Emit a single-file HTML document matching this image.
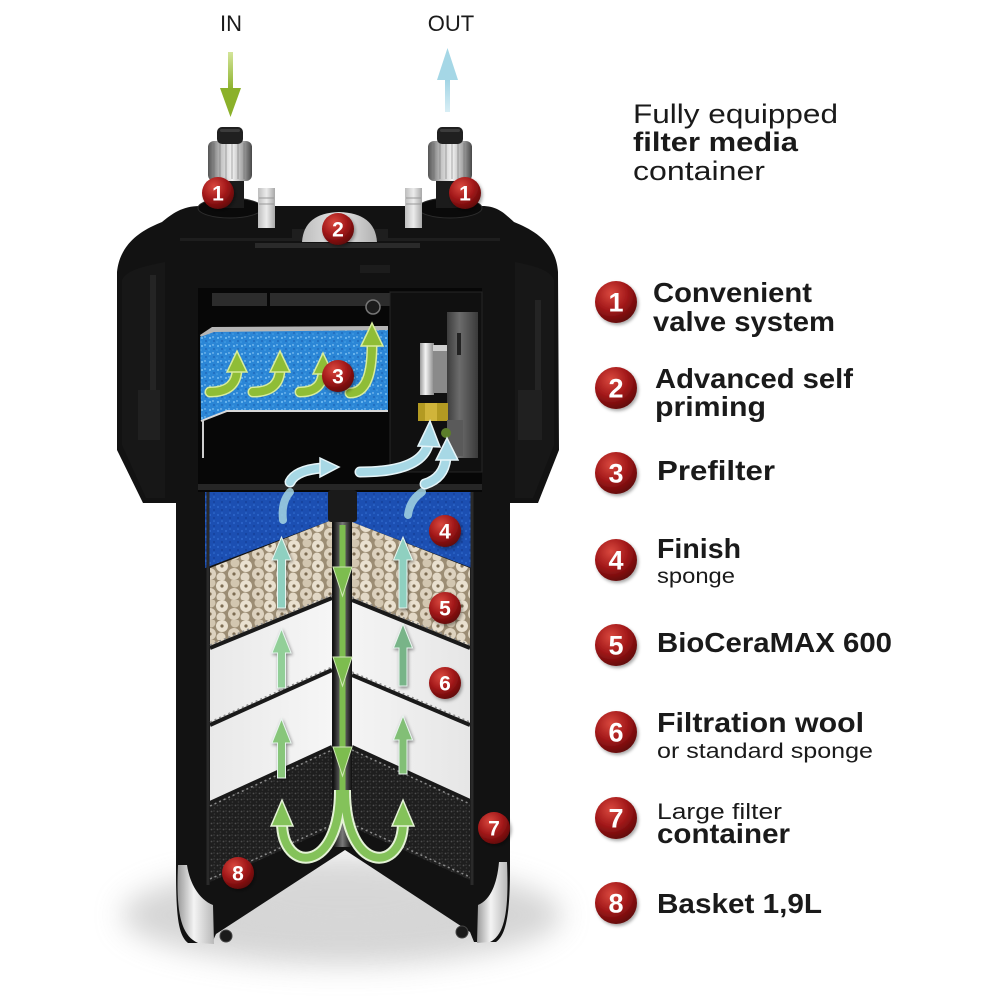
<!DOCTYPE html>
<html><head><meta charset="utf-8">
<style>
html,body{margin:0;padding:0;background:#fff;}
svg{display:block;}
text{font-family:"Liberation Sans",Arial,sans-serif;}
</style></head><body>
<svg width="1000" height="1000" viewBox="0 0 1000 1000" xmlns="http://www.w3.org/2000/svg">
<defs>
 <radialGradient id="bd" cx="38%" cy="30%" r="72%">
  <stop offset="0" stop-color="#d9483e"/>
  <stop offset="0.55" stop-color="#a3191a"/>
  <stop offset="1" stop-color="#620707"/>
 </radialGradient>
 <filter id="ds" x="-40%" y="-40%" width="180%" height="180%"><feDropShadow dx="1.5" dy="2" stdDeviation="1.5" flood-color="#000" flood-opacity="0.35"/></filter>
 <filter id="ads" x="-40%" y="-40%" width="180%" height="180%"><feDropShadow dx="1" dy="1.5" stdDeviation="1.5" flood-color="#000" flood-opacity="0.45"/></filter>
 <filter id="blur" x="-50%" y="-50%" width="200%" height="200%"><feGaussianBlur stdDeviation="14"/></filter>
 <linearGradient id="silv" x1="0" x2="1" y1="0" y2="0">
  <stop offset="0" stop-color="#555"/><stop offset="0.3" stop-color="#c4c4c4"/><stop offset="0.55" stop-color="#f2f2f2"/><stop offset="0.8" stop-color="#a4a4a4"/><stop offset="1" stop-color="#474747"/>
 </linearGradient>
 <linearGradient id="foot" x1="0" x2="1" y1="0" y2="0">
  <stop offset="0" stop-color="#9a9a9a"/><stop offset="0.45" stop-color="#f4f4f4"/><stop offset="1" stop-color="#b8b8b8"/>
 </linearGradient>
 <linearGradient id="tab" x1="0" x2="1">
  <stop offset="0" stop-color="#bdbdbd"/><stop offset="0.5" stop-color="#ececec"/><stop offset="1" stop-color="#a8a8a8"/>
 </linearGradient>
 <linearGradient id="dome" x1="0" x2="1">
  <stop offset="0" stop-color="#bdbdbd"/><stop offset="0.5" stop-color="#e6e6e6"/><stop offset="1" stop-color="#b0b0b0"/>
 </linearGradient>
 <linearGradient id="tube" x1="0" x2="1">
  <stop offset="0" stop-color="#0e0e0e"/><stop offset="0.5" stop-color="#7a7a7a"/><stop offset="1" stop-color="#0e0e0e"/>
 </linearGradient>
 <linearGradient id="hous" x1="0" x2="1">
  <stop offset="0" stop-color="#3c3c3c"/><stop offset="0.4" stop-color="#6c6c6c"/><stop offset="1" stop-color="#3a3a3a"/>
 </linearGradient>
 <linearGradient id="cyl" x1="0" x2="1">
  <stop offset="0" stop-color="#9a9a9a"/><stop offset="0.4" stop-color="#f4f4f4"/><stop offset="1" stop-color="#888"/>
 </linearGradient>
 <linearGradient id="woolL" x1="0" x2="1">
  <stop offset="0" stop-color="#e9e9e9"/><stop offset="1" stop-color="#f6f6f6"/>
 </linearGradient>
 <linearGradient id="woolR" x1="0" x2="1">
  <stop offset="0" stop-color="#f4f4f4"/><stop offset="1" stop-color="#e6e6e6"/>
 </linearGradient>
 <linearGradient id="inG" x1="0" x2="0" y1="0" y2="1">
  <stop offset="0" stop-color="#d4e59a"/><stop offset="1" stop-color="#8bb12a"/>
 </linearGradient>
 <linearGradient id="outG" x1="0" x2="0" y1="0" y2="1">
  <stop offset="0" stop-color="#9fd3e4"/><stop offset="1" stop-color="#d8eef5"/>
 </linearGradient>
 <pattern id="pre" width="8" height="8" patternUnits="userSpaceOnUse">
  <rect width="8" height="8" fill="#2b86d6"/>
  <circle cx="2" cy="2" r="1" fill="#78c0f4"/><circle cx="6" cy="5" r="0.9" fill="#1c62b4"/><circle cx="5" cy="1" r="0.7" fill="#a5d6fa"/><circle cx="1" cy="6" r="0.8" fill="#4aa2e6"/>
 </pattern>
 <pattern id="fin" width="8" height="8" patternUnits="userSpaceOnUse">
  <rect width="8" height="8" fill="#1c4fb2"/>
  <circle cx="2" cy="3" r="1.1" fill="#2b63c8"/><circle cx="6" cy="6" r="1" fill="#15409a"/><circle cx="6" cy="1" r="0.8" fill="#3370d0"/>
 </pattern>
 <pattern id="cer" width="24" height="20" patternUnits="userSpaceOnUse">
  <rect width="24" height="20" fill="#9c8d74"/>
  <circle cx="6" cy="6" r="6" fill="#e9e0cf"/><circle cx="6" cy="6" r="1.6" fill="#7d6c52"/>
  <circle cx="18" cy="14" r="6" fill="#ddd2bf"/><circle cx="18" cy="14" r="1.6" fill="#7d6c52"/>
  <circle cx="19" cy="3" r="4.5" fill="#d2c6b0"/><circle cx="5" cy="17" r="4.5" fill="#e2d8c6"/>
 </pattern>
 <pattern id="carb" width="6" height="6" patternUnits="userSpaceOnUse">
  <rect width="6" height="6" fill="#1e1e1e"/>
  <circle cx="1.5" cy="1.5" r="0.9" fill="#4e4e4e"/><circle cx="4.5" cy="4" r="0.8" fill="#3a3a3a"/><circle cx="4" cy="1" r="0.5" fill="#666"/>
 </pattern>
</defs>

<!-- shadow -->
<ellipse cx="342" cy="915" rx="220" ry="50" fill="#c4c4c4" opacity="0.7" filter="url(#blur)"/>
<ellipse cx="345" cy="895" rx="120" ry="40" fill="#d8d8d8" opacity="0.6" filter="url(#blur)"/>

<!-- IN / OUT -->
<text x="231" y="31" font-size="22" text-anchor="middle" fill="#1a1a1a">IN</text>
<text x="451" y="31" font-size="22" text-anchor="middle" fill="#1a1a1a">OUT</text>
<rect x="228" y="52" width="5" height="38" fill="url(#inG)"/>
<polygon points="220,88 241,88 230.5,117" fill="#8bb12a"/>
<rect x="445" y="78" width="5" height="34" fill="url(#outG)"/>
<polygon points="437,80 458,80 447.5,48" fill="#a5d7e6"/>

<!-- body silhouette -->
<path d="M200 206 L482 206 C498 206 505 214 514 222 C534 230 556 243 558 272 L559 450 L538 503 L510 503 L510 868 C510 915 506 935 496 942 L474 942 L470 932 L345 850 L216 934 L212 943 L188 943 C178 935 176 915 176 868 L176 503 L143 503 L117 450 L117 272 C120 243 142 230 162 222 C172 214 182 206 200 206 Z" fill="#121212"/>
<!-- wing details -->
<path d="M122 280 L122 445 L146 498 L165 498 L165 262 C145 266 126 270 122 280 Z" fill="#171717"/>
<path d="M554 280 L554 445 L533 498 L515 498 L515 262 C535 266 550 270 554 280 Z" fill="#171717"/>
<rect x="150" y="275" width="6" height="140" fill="#242424"/>
<rect x="535" y="300" width="6" height="110" fill="#242424"/>
<rect x="138" y="390" width="22" height="50" fill="#202020"/>
<rect x="518" y="390" width="24" height="50" fill="#202020"/>
<!-- head cap details -->
<rect x="255" y="243" width="165" height="5" fill="#2a2a2a"/>
<rect x="180" y="238" width="320" height="3" fill="#1e1e1e"/>
<rect x="360" y="265" width="30" height="8" fill="#1c1c1c"/>

<!-- knobs -->
<g>
 <ellipse cx="230" cy="208" rx="32" ry="10" fill="#0a0a0a" stroke="#2c2c2c"/>
 <rect x="216" y="176" width="28" height="32" fill="#1b1b1b"/>
 <rect x="208" y="141" width="44" height="40" rx="6" fill="url(#silv)"/>
 <g stroke="#6a6a6a" stroke-opacity="0.55" stroke-width="1">
  <line x1="214" y1="143" x2="214" y2="179"/><line x1="220" y1="143" x2="220" y2="179"/><line x1="226" y1="143" x2="226" y2="179"/><line x1="232" y1="143" x2="232" y2="179"/><line x1="238" y1="143" x2="238" y2="179"/><line x1="244" y1="143" x2="244" y2="179"/>
 </g>
 <rect x="217" y="127" width="26" height="17" rx="5" fill="#202020"/>
 <rect x="220" y="129" width="20" height="3" rx="1.5" fill="#3c3c3c"/>
</g>
<g>
 <ellipse cx="450" cy="208" rx="32" ry="10" fill="#0a0a0a" stroke="#2c2c2c"/>
 <rect x="436" y="176" width="28" height="32" fill="#1b1b1b"/>
 <rect x="428" y="141" width="44" height="40" rx="6" fill="url(#silv)"/>
 <g stroke="#6a6a6a" stroke-opacity="0.55" stroke-width="1">
  <line x1="434" y1="143" x2="434" y2="179"/><line x1="440" y1="143" x2="440" y2="179"/><line x1="446" y1="143" x2="446" y2="179"/><line x1="452" y1="143" x2="452" y2="179"/><line x1="458" y1="143" x2="458" y2="179"/><line x1="464" y1="143" x2="464" y2="179"/>
 </g>
 <rect x="437" y="127" width="26" height="17" rx="5" fill="#202020"/>
 <rect x="440" y="129" width="20" height="3" rx="1.5" fill="#3c3c3c"/>
</g>
<!-- tabs -->
<rect x="258" y="188" width="17" height="40" fill="url(#tab)"/>
<line x1="259" y1="198" x2="274" y2="198" stroke="#999"/><line x1="259" y1="204" x2="274" y2="204" stroke="#999"/>
<rect x="405" y="188" width="17" height="40" fill="url(#tab)"/>
<line x1="406" y1="198" x2="421" y2="198" stroke="#999"/><line x1="406" y1="204" x2="421" y2="204" stroke="#999"/>
<!-- dome -->
<rect x="292" y="229" width="96" height="12" fill="#1e1e1e"/>
<path d="M302 242 Q304 213 339 212 Q375 213 377 242 Z" fill="url(#dome)"/>

<!-- head compartment -->
<rect x="198" y="288" width="284" height="204" fill="#070707"/>
<rect x="212" y="293" width="55" height="13" fill="#2c2c2c"/>
<rect x="270" y="293" width="120" height="13" fill="#2c2c2c"/>
<circle cx="373" cy="307" r="7" fill="#1c1c1c" stroke="#777" stroke-width="1.5"/>
<!-- prefilter -->
<polygon points="200,335 212,327 388,326 388,331 214,333 202,340" fill="#b5b5b5"/>
<polygon points="200,337 214,332 388,330 388,411 227,411 201,421" fill="url(#pre)"/>
<polyline points="201,421 227,411 388,411" fill="none" stroke="#d8d8d8" stroke-width="2"/>
<line x1="203" y1="420" x2="203" y2="458" stroke="#cfcfcf" stroke-width="2"/>
<!-- pump -->
<rect x="390" y="292" width="92" height="180" fill="#101010" stroke="#262626"/>
<rect x="447" y="312" width="31" height="146" fill="url(#hous)"/>
<rect x="457" y="333" width="4" height="22" fill="#222"/>
<rect x="420" y="343" width="14" height="52" fill="url(#cyl)"/>
<rect x="433" y="345" width="14" height="48" fill="#8a8a8a"/>
<rect x="433" y="345" width="14" height="6" fill="#d0d0d0"/>
<rect x="418" y="403" width="30" height="18" fill="#b39a22"/>
<rect x="425" y="403" width="12" height="18" fill="#d0b43a"/>
<rect x="447" y="420" width="16" height="36" fill="#5a5a5a"/>
<circle cx="446" cy="433" r="5" fill="#5c7e2a"/>
<!-- tray separator -->
<rect x="198" y="484" width="284" height="6" fill="#262626"/>

<!-- lower media -->
<polygon points="205,492 332,492 332,520 205,568" fill="url(#fin)"/>
<polygon points="352,492 472,492 472,568 352,522" fill="url(#fin)"/>
<polygon points="210,568 332,520 332,598 210,648" fill="url(#cer)"/>
<polygon points="352,522 470,568 470,648 352,600" fill="url(#cer)"/>
<polygon points="210,648 332,598 332,670 210,725" fill="url(#woolL)"/>
<polygon points="352,600 470,648 470,725 352,675" fill="url(#woolR)"/>
<polygon points="210,725 332,670 332,747 210,803" fill="url(#woolL)"/>
<polygon points="352,675 470,725 470,801 352,747" fill="url(#woolR)"/>
<polygon points="210,803 332,747 332,828 210,882" fill="url(#carb)"/>
<polygon points="352,747 470,801 470,880 352,827" fill="url(#carb)"/>
<!-- tray lines -->
<g fill="none" stroke="#1a1a1a" stroke-width="4">
 <polyline points="210,648 332,598"/><polyline points="352,600 470,648"/>
 <polyline points="210,725 332,670"/><polyline points="352,675 470,725"/>
 <polyline points="210,803 332,747"/><polyline points="352,747 470,801"/>
</g>
<g fill="none" stroke="#8a8a8a" stroke-width="1.5" stroke-dasharray="2 3">
 <polyline points="210,645 332,595"/><polyline points="352,597 470,645"/>
 <polyline points="210,722 332,667"/><polyline points="352,672 470,722"/>
 <polyline points="210,806 332,750"/><polyline points="352,750 470,804"/>
 <polyline points="210,879 332,825"/><polyline points="352,824 470,877"/>
</g>
<line x1="208" y1="492" x2="208" y2="885" stroke="#2a2a2a" stroke-width="3"/>
<line x1="472" y1="492" x2="472" y2="885" stroke="#2a2a2a" stroke-width="3"/>
<!-- tube -->
<rect x="333" y="492" width="19" height="355" fill="url(#tube)"/>
<rect x="328" y="490" width="29" height="32" rx="3" fill="#1a1a1a"/>
<!-- feet -->
<path d="M178 865 C176 910 180 935 198 943 L214 944 L213 905 C200 900 190 885 187 865 Z" fill="url(#foot)"/>
<path d="M507 862 C509 910 505 935 490 942 L477 943 L478 905 C490 900 497 885 499 862 Z" fill="url(#foot)"/>
<circle cx="226" cy="936" r="6" fill="#1a1a1a" stroke="#444"/>
<circle cx="462" cy="932" r="6" fill="#1a1a1a" stroke="#444"/>

<!-- prefilter arrows -->
<g fill="none" stroke="#d8ec9c" stroke-width="11" stroke-linecap="round">
 <path d="M210 392 Q236 392 237 370"/><path d="M253 392 Q279 392 280 370"/><path d="M300 392 Q322 392 323 372"/><path d="M350 393 Q372 393 372 345"/>
</g>
<g fill="none" stroke="#8fbd36" stroke-width="8" stroke-linecap="round">
 <path d="M210 392 Q236 392 237 370"/><path d="M253 392 Q279 392 280 370"/><path d="M300 392 Q322 392 323 372"/><path d="M350 393 Q372 393 372 345"/>
</g>
<g fill="#8fbd36" stroke="#d8ec9c" stroke-width="1.5">
 <polygon points="227,372 237,351 247,372"/><polygon points="270,372 280,351 290,372"/><polygon points="313,374 323,353 333,374"/><polygon points="361,346 372,323 383,346"/>
</g>

<!-- cyan arrows -->
<g fill="none" stroke="#a5d5e2" stroke-width="8" stroke-linecap="round" opacity="0.85">
 <path d="M283 520 Q281 502 290 492"/><path d="M408 515 Q410 500 422 492"/>
</g>
<g fill="none" stroke="#e6f5f9" stroke-width="11" stroke-linecap="round">
 <path d="M290 482 Q296 470 322 468"/><path d="M360 472 Q420 472 428 445"/><path d="M425 484 Q444 478 446 458"/>
</g>
<g fill="none" stroke="#a7d8e5" stroke-width="8" stroke-linecap="round">
 <path d="M290 482 Q296 470 322 468"/><path d="M360 472 Q420 472 428 445"/><path d="M425 484 Q444 478 446 458"/>
</g>
<g fill="#a7d8e5" stroke="#e6f5f9" stroke-width="1.5">
 <polygon points="320,458 339,467 320,477"/><polygon points="418,446 430,421 440,447"/><polygon points="436,460 447,438 458,460"/>
</g>

<!-- media up arrows -->
<g filter="url(#ads)" stroke="#e8f5ef" stroke-width="1">
 <path d="M277.5 608 L277.5 560 L272 560 L281.5 537 L291 560 L285.5 560 L285.5 608 Z" fill="#8fd0c0"/>
 <path d="M277.5 688 L277.5 653 L272 653 L281.5 629 L291 653 L285.5 653 L285.5 688 Z" fill="#92cf98"/>
 <path d="M277.5 778 L277.5 743 L272 743 L281.5 719 L291 743 L285.5 743 L285.5 778 Z" fill="#88c67a"/>
 <path d="M399 608 L399 560 L393.5 560 L403 537 L412.5 560 L407 560 L407 608 Z" fill="#8fd0c0"/>
 <path d="M399 686 L399 648 L393.5 648 L403 624 L412.5 648 L407 648 L407 686 Z" fill="#78b488"/>
 <path d="M399 774 L399 740 L393.5 740 L403 716 L412.5 740 L407 740 L407 774 Z" fill="#82bf76"/>
</g>

<!-- tube down arrows -->
<rect x="339.5" y="525" width="6" height="275" fill="#7dbd4f"/>
<g fill="#7dbd4f" stroke="#cfe8b5" stroke-width="1">
 <polygon points="333,567 352,567 342.5,596"/><polygon points="333,657 352,657 342.5,686"/><polygon points="333,747 352,747 342.5,776"/>
</g>
<!-- U turns -->
<g fill="none" stroke="#e4f2d6" stroke-width="12">
 <path d="M340 790 C340 874 282 874 282 822"/><path d="M345 790 C345 874 403 874 403 822"/>
</g>
<g fill="none" stroke="#84c25a" stroke-width="8">
 <path d="M340 790 C340 874 282 874 282 822"/><path d="M345 790 C345 874 403 874 403 822"/>
</g>
<g fill="#84c25a" stroke="#e4f2d6" stroke-width="1.5">
 <polygon points="271,826 282,800 293,826"/><polygon points="392,826 403,800 414,826"/>
</g>

<!-- diagram badges -->
<g filter="url(#ds)" font-weight="bold" font-size="21" fill="#fff" text-anchor="middle">
 <circle cx="218" cy="193" r="16" fill="url(#bd)"/><text x="218" y="200.5">1</text>
 <circle cx="465" cy="193" r="16" fill="url(#bd)"/><text x="465" y="200.5">1</text>
 <circle cx="338" cy="229" r="16" fill="url(#bd)"/><text x="338" y="236.5">2</text>
 <circle cx="338" cy="376" r="16" fill="url(#bd)"/><text x="338" y="383.5">3</text>
 <circle cx="445" cy="531" r="16" fill="url(#bd)"/><text x="445" y="538.5">4</text>
 <circle cx="445" cy="608" r="16" fill="url(#bd)"/><text x="445" y="615.5">5</text>
 <circle cx="445" cy="683" r="16" fill="url(#bd)"/><text x="445" y="690.5">6</text>
 <circle cx="494" cy="828" r="16" fill="url(#bd)"/><text x="494" y="835.5">7</text>
 <circle cx="238" cy="873" r="16" fill="url(#bd)"/><text x="238" y="880.5">8</text>
</g>

<!-- right text -->
<g fill="#1a1a1a">
 <text x="633" y="123" font-size="27" textLength="205" lengthAdjust="spacingAndGlyphs">Fully equipped</text>
 <text x="633" y="151" font-size="27" font-weight="bold" textLength="165" lengthAdjust="spacingAndGlyphs">filter media</text>
 <text x="633" y="180" font-size="27" textLength="132" lengthAdjust="spacingAndGlyphs">container</text>

 <text x="653" y="302" font-size="28" font-weight="bold" textLength="159" lengthAdjust="spacingAndGlyphs">Convenient</text>
 <text x="653" y="331" font-size="28" font-weight="bold" textLength="182" lengthAdjust="spacingAndGlyphs">valve system</text>
 <text x="655" y="388" font-size="28" font-weight="bold" textLength="198" lengthAdjust="spacingAndGlyphs">Advanced self</text>
 <text x="655" y="416" font-size="28" font-weight="bold" textLength="111" lengthAdjust="spacingAndGlyphs">priming</text>
 <text x="657" y="480" font-size="28" font-weight="bold" textLength="118" lengthAdjust="spacingAndGlyphs">Prefilter</text>
 <text x="657" y="558" font-size="28" font-weight="bold" textLength="84" lengthAdjust="spacingAndGlyphs">Finish</text>
 <text x="657" y="583" font-size="21" textLength="78" lengthAdjust="spacingAndGlyphs">sponge</text>
 <text x="657" y="652" font-size="28" font-weight="bold" textLength="235" lengthAdjust="spacingAndGlyphs">BioCeraMAX 600</text>
 <text x="657" y="732" font-size="28" font-weight="bold" textLength="207" lengthAdjust="spacingAndGlyphs">Filtration wool</text>
 <text x="657" y="758" font-size="21" textLength="216" lengthAdjust="spacingAndGlyphs">or standard sponge</text>
 <text x="657" y="819" font-size="22" textLength="125" lengthAdjust="spacingAndGlyphs">Large filter</text>
 <text x="657" y="843" font-size="28" font-weight="bold" textLength="133" lengthAdjust="spacingAndGlyphs">container</text>
 <text x="657" y="913" font-size="28" font-weight="bold" textLength="165" lengthAdjust="spacingAndGlyphs">Basket 1,9L</text>
</g>

<!-- list badges -->
<g filter="url(#ds)" font-weight="bold" font-size="27" fill="#fff" text-anchor="middle">
 <circle cx="616" cy="302" r="21" fill="url(#bd)"/><text x="616" y="311.5">1</text>
 <circle cx="616" cy="388" r="21" fill="url(#bd)"/><text x="616" y="397.5">2</text>
 <circle cx="616" cy="473" r="21" fill="url(#bd)"/><text x="616" y="482.5">3</text>
 <circle cx="616" cy="560" r="21" fill="url(#bd)"/><text x="616" y="569.5">4</text>
 <circle cx="616" cy="645" r="21" fill="url(#bd)"/><text x="616" y="654.5">5</text>
 <circle cx="616" cy="732" r="21" fill="url(#bd)"/><text x="616" y="741.5">6</text>
 <circle cx="616" cy="818" r="21" fill="url(#bd)"/><text x="616" y="827.5">7</text>
 <circle cx="616" cy="903" r="21" fill="url(#bd)"/><text x="616" y="912.5">8</text>
</g>
</svg>
</body></html>
